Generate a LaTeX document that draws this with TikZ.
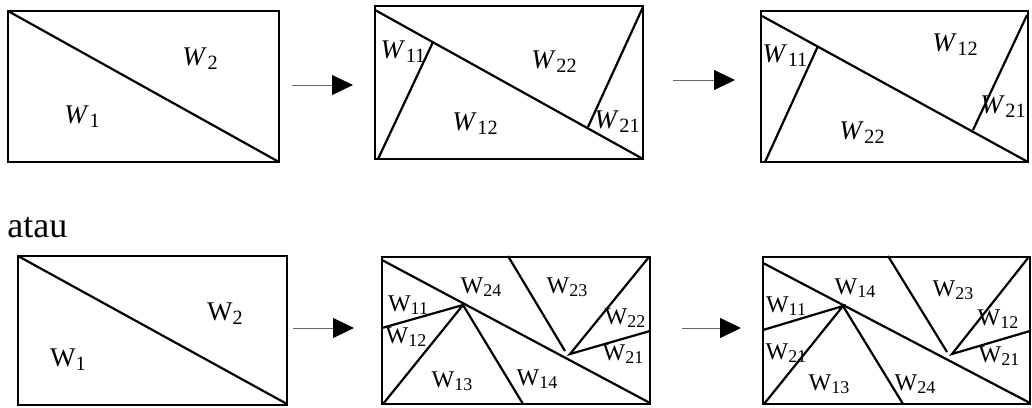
\documentclass[tikz,border=0pt]{standalone}
\usepackage{graphicx}
\usepackage{fontspec}
\setmainfont{Liberation Serif}
\usetikzlibrary{arrows.meta}
% W with a lowered subscript, italic (top row) and upright (bottom row)
\newcommand\Wit[1]{\textit{W}\kern0.3pt\raisebox{-0.3ex}{\scalebox{0.75}{#1}}}
\newcommand\Wup[1]{W\raisebox{-0.3ex}{\scalebox{0.75}{#1}}}

\begin{document}
\begin{tikzpicture}[x=0.5pt,y=-0.5pt,
    box/.style={line width=0.8pt},
    cut/.style={line width=1.1pt},
    flow/.style={line width=0.4pt,black!60,-{Triangle[length=10.5pt,width=10pt,color=black]}},
    biglab/.style={font=\fontsize{13.5}{15}\selectfont,inner sep=0pt},
    lab/.style={font=\fontsize{12}{14}\selectfont,inner sep=0pt}]
    \useasboundingbox (0,0) rectangle (1032,407);

    % top row
    \draw[box] (8,11) rectangle (279,162);
    \draw[cut] (8,11) -- (279,162);
    \node[biglab] (t1w2) at (200,59) {\Wit{2}};
    \node[biglab] (t1w1) at (82,117) {\Wit{1}};

    \coordinate (a1s) at (292,85);
    \coordinate (a1e) at (353,85);
    \draw[flow] (a1s) -- (a1e);

    \draw[box] (375,6) rectangle (643,159);
    \draw[cut] (375,10) -- (643,159);
    \draw[cut] (378,159) -- (433,42);
    \draw[cut] (588,127) -- (643,7);
    \node[biglab] (t2w11) at (403,52) {\Wit{11}};
    \node[biglab] (t2w22) at (554,62) {\Wit{22}};
    \node[biglab] (t2w12) at (475,124) {\Wit{12}};
    \node[biglab] (t2w21) at (617,122) {\Wit{21}};

    \coordinate (a2s) at (673,80);
    \coordinate (a2e) at (735,80);
    \draw[flow] (a2s) -- (a2e);

    \draw[box] (761,11) rectangle (1028,162);
    \draw[cut] (762,16) -- (1028,162);
    \draw[cut] (765,162) -- (818,46);
    \draw[cut] (973,130) -- (1027,15);
    \node[biglab] (t3w11) at (785,56) {\Wit{11}};
    \node[biglab] (t3w12) at (955,45) {\Wit{12}};
    \node[biglab] (t3w21) at (1003,107) {\Wit{21}};
    \node[biglab] (t3w22) at (862,133) {\Wit{22}};

    % bottom row
    \node[font=\fontsize{18}{20}\selectfont,inner sep=0pt,anchor=base west] (atau) at (7,237) {atau};

    \draw[box] (18,256) rectangle (287,405);
    \draw[cut] (18,256) -- (287,404);
    \node[biglab] (b1w2) at (225,314) {\Wup{2}};
    \node[biglab] (b1w1) at (68,360) {\Wup{1}};

    \coordinate (a3s) at (293,328);
    \coordinate (a3e) at (354,328);
    \draw[flow] (a3s) -- (a3e);

    \draw[box] (382,257) rectangle (650,404);
    \draw[cut] (382,260) -- (650,403);
    \coordinate (p5) at (463,305);
    \coordinate (q5) at (570,354);
    \draw[cut] (382,328) -- (p5) -- (383,404);
    \draw[cut] (p5) -- (523,404);
    \draw[cut] (508,256) -- (565,351);
    \draw[cut] (649,257) -- (q5) -- (650,331);
    \node[lab] (b2w24) at (481,287) {\Wup{24}};
    \node[lab] (b2w23) at (567,287) {\Wup{23}};
    \node[lab] (b2w11) at (408,305) {\Wup{11}};
    \node[lab] (b2w12) at (406,337) {\Wup{12}};
    \node[lab] (b2w22) at (625,318) {\Wup{22}};
    \node[lab] (b2w21) at (623,354) {\Wup{21}};
    \node[lab] (b2w13) at (452,381) {\Wup{13}};
    \node[lab] (b2w14) at (537,379) {\Wup{14}};

    \coordinate (a4s) at (682,328);
    \coordinate (a4e) at (741,328);
    \draw[flow] (a4s) -- (a4e);

    \draw[box] (763,257) rectangle (1030,404);
    \draw[cut] (763,263) -- (1030,403);
    \coordinate (p6) at (843,306);
    \coordinate (q6) at (952,354);
    \draw[cut] (763,330) -- (p6) -- (764,404);
    \draw[cut] (p6) -- (903,404);
    \draw[cut] (888,256) -- (947,352);
    \draw[cut] (1028,258) -- (q6) -- (1030,331);
    \node[lab] (b3w14) at (855,288) {\Wup{14}};
    \node[lab] (b3w23) at (953,290) {\Wup{23}};
    \node[lab] (b3w11) at (786,306) {\Wup{11}};
    \node[lab] (b3w12) at (998,319) {\Wup{12}};
    \node[lab] (b3w21a) at (786,353) {\Wup{21}};
    \node[lab] (b3w21b) at (999,356) {\Wup{21}};
    \node[lab] (b3w13) at (829,384) {\Wup{13}};
    \node[lab] (b3w24) at (915,384) {\Wup{24}};
\end{tikzpicture}
\end{document}
